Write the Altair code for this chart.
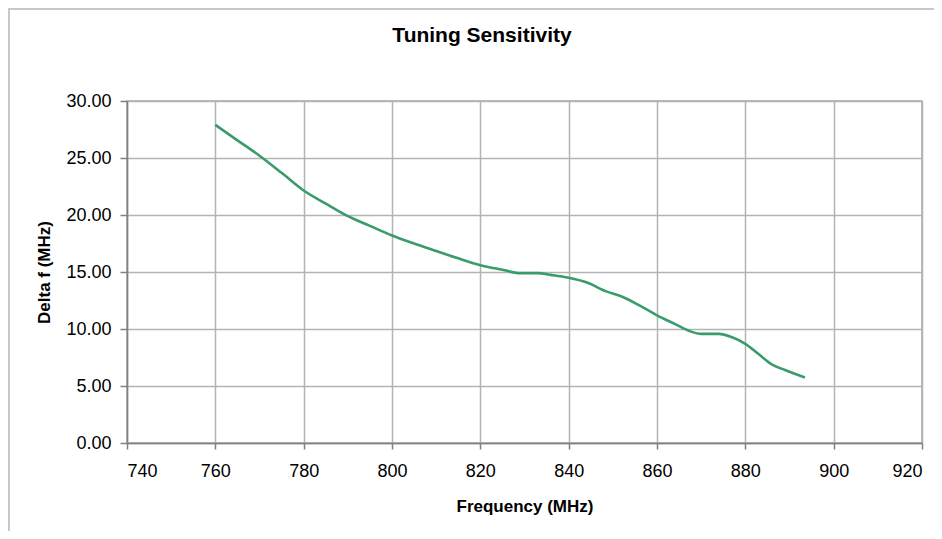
import altair as alt
import pandas as pd

# Data
freq_mhz = [760, 765, 770, 775, 780, 785, 790, 795, 800, 805, 810, 815, 820,
            825, 829, 833, 836, 840, 844, 848.5, 852, 857, 860, 864, 867.5,
            870, 874, 877, 880, 883, 886, 889, 893.5]
delta_f = [27.9, 26.55, 25.2, 23.7, 22.15, 21.0, 19.9, 19.05, 18.2, 17.5, 16.85,
           16.2, 15.6, 15.2, 14.9, 14.9, 14.75, 14.5, 14.1, 13.3, 12.85, 11.85,
           11.2, 10.45, 9.8, 9.57, 9.57, 9.27, 8.7, 7.8, 6.9, 6.4, 5.75]
x_ticks = [740, 760, 780, 800, 820, 840, 860, 880, 900, 920]
y_ticks = [0, 5, 10, 15, 20, 25, 30]
chart_title = ["Tuning Sensitivity"]

df = pd.DataFrame({"freq": freq_mhz, "df": delta_f})
title_df = pd.DataFrame({"t": chart_title})

W, H = 795, 342
FONT = "Liberation Sans"

line = alt.Chart(df).mark_line(
    color="#3a9b6b", strokeWidth=2.6, interpolate="monotone"
).encode(
    x=alt.X("freq:Q",
            scale=alt.Scale(domain=[740, 920], nice=False, zero=False),
            axis=alt.Axis(values=x_ticks, format="d", title="Frequency (MHz)",
                          titleX=W / 2, titleY=63, titleBaseline="middle",
                          titleAlign="center", labelPadding=13, tickSize=6)),
    y=alt.Y("df:Q",
            scale=alt.Scale(domain=[0, 30], nice=False),
            axis=alt.Axis(values=y_ticks, format=".2f", title="Delta f (MHz)",
                          titleX=-83, titleY=H / 2, titleAngle=-90,
                          titleBaseline="middle", titleAlign="center",
                          labelPadding=9, tickSize=7)),
)

title_mark = alt.Chart(title_df).mark_text(
    font=FONT, fontSize=21, fontWeight="bold", color="#000",
    align="center", baseline="alphabetic"
).encode(text="t:N", x=alt.value(355), y=alt.value(-59))

frame_top = alt.Chart(title_df).mark_rule(color="#c8c8c8", strokeWidth=2).encode(
    x=alt.value(-119), x2=alt.value(W + 12), y=alt.value(-92)
)
frame_left = alt.Chart(title_df).mark_rule(color="#c8c8c8", strokeWidth=2).encode(
    x=alt.value(-118), y=alt.value(-93), y2=alt.value(H + 88)
)

chart = alt.layer(frame_top, frame_left, title_mark, line).properties(
    width=W, height=H,
    background="white",
    autosize=alt.AutoSizeParams(type="none"),
    padding={"left": 119, "top": 93, "right": 12, "bottom": 88},
).configure_view(
    stroke="#a8a8a8", strokeWidth=1.5
).configure_axis(
    labelFont=FONT, labelFontSize=18, labelColor="#000",
    titleFont=FONT, titleFontSize=17, titleFontWeight="bold", titleColor="#000",
    grid=True, gridColor="#b3b3b3", gridWidth=1.5,
    domainColor="#808080", domainWidth=1.5,
    tickColor="#808080", tickWidth=1.5,
)

chart.save("out.html", embed_options={"renderer": "svg", "actions": False})
